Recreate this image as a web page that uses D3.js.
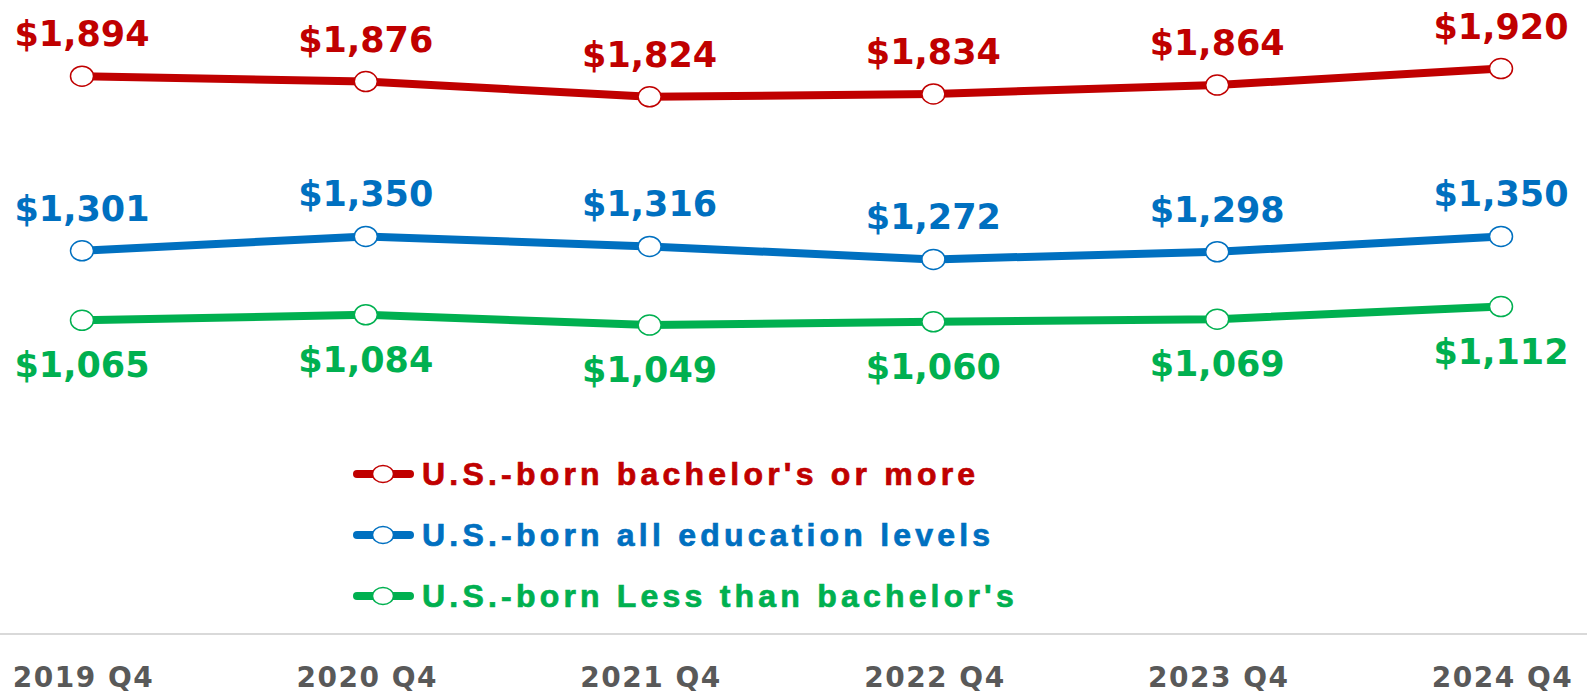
<!DOCTYPE html>
<html>
<head>
<meta charset="utf-8">
<script src="https://cdn.jsdelivr.net/npm/d3@7"></script>
<style>
  html, body { margin: 0; padding: 0; background: #fff; }
  svg { display: block; }
</style>
</head>
<body>
<svg id="chart" width="1587" height="697"></svg>
<script>
const categories = ["2019 Q4", "2020 Q4", "2021 Q4", "2022 Q4", "2023 Q4", "2024 Q4"];
const seriesNames = ["U.S.-born bachelor's or more", "U.S.-born all education levels", "U.S.-born Less than bachelor's"];
const bachelorsOrMore = [1894, 1876, 1824, 1834, 1864, 1920];
const allEducation = [1301, 1350, 1316, 1272, 1298, 1350];
const lessThanBachelors = [1065, 1084, 1049, 1060, 1069, 1112];
const seriesColors = ["#C00000", "#0070C0", "#00B050"];
const labelSide = ["above", "above", "below"];

const series = [bachelorsOrMore, allEducation, lessThanBachelors].map((vals, i) => ({
  name: seriesNames[i], values: vals, color: seriesColors[i], side: labelSide[i]
}));

const svg = d3.select("#chart");
const fontA = "'Liberation Sans', Arial, sans-serif";
const fontD = "'DejaVu Sans', sans-serif";

const x = d3.scalePoint().domain(categories).range([82, 1501]);
const y = d3.scaleLinear().domain([0, 2000]).range([634, 45]);

// baseline axis line
svg.append("line")
  .attr("x1", 0).attr("x2", 1587)
  .attr("y1", y(0)).attr("y2", y(0))
  .attr("stroke", "#d9d9d9").attr("stroke-width", 2);

// x axis labels
const xAxis = d3.axisBottom(x).tickSize(0).tickPadding(0);
const gx = svg.append("g").attr("transform", `translate(0,${y(0)})`).call(xAxis);
gx.select(".domain").remove();
gx.selectAll("text")
  .attr("y", 53).attr("dy", null)
  .attr("dx", 1)
  .style("font-family", fontD).style("font-weight", "bold")
  .style("font-size", "28px").style("letter-spacing", "1.5px")
  .attr("fill", "#595959");

const line = d3.line().x((d, i) => x(categories[i])).y(d => y(d));

series.forEach(s => {
  const g = svg.append("g");
  g.append("path")
    .datum(s.values)
    .attr("d", line)
    .attr("fill", "none")
    .attr("stroke", s.color)
    .attr("stroke-width", 8)
    .attr("stroke-linejoin", "round");
  g.selectAll("ellipse").data(s.values).join("ellipse")
    .attr("cx", (d, i) => x(categories[i]))
    .attr("cy", d => y(d))
    .attr("rx", 11.5).attr("ry", 10)
    .attr("fill", "#fff")
    .attr("stroke", s.color).attr("stroke-width", 1.5);
  g.selectAll("text").data(s.values).join("text")
    .attr("x", (d, i) => x(categories[i]))
    .attr("y", d => s.side === "above" ? y(d) - 30 : y(d) + 57)
    .attr("text-anchor", "middle")
    .style("font-family", fontD).style("font-weight", "bold")
    .style("font-size", "35px")
    .attr("fill", s.color)
    .text(d => "$" + d3.format(",")(d));
});

// legend
const legend = svg.append("g");
series.forEach((s, i) => {
  const by = 485 + i * 61;
  const cy = by - 11;
  legend.append("line")
    .attr("x1", 357).attr("x2", 410)
    .attr("y1", cy).attr("y2", cy)
    .attr("stroke", s.color).attr("stroke-width", 8)
    .attr("stroke-linecap", "round");
  legend.append("ellipse")
    .attr("cx", 383).attr("cy", cy)
    .attr("rx", 10.5).attr("ry", 8.5)
    .attr("fill", "#fff").attr("stroke", s.color).attr("stroke-width", 1.5);
  legend.append("text")
    .attr("x", 422).attr("y", by)
    .style("font-family", fontA).style("font-weight", "bold")
    .style("font-size", "32px").style("letter-spacing", "4.2px")
    .attr("fill", s.color)
    .attr("stroke", s.color).attr("stroke-width", 0.7)
    .text(s.name);
});
</script>
</body>
</html>
